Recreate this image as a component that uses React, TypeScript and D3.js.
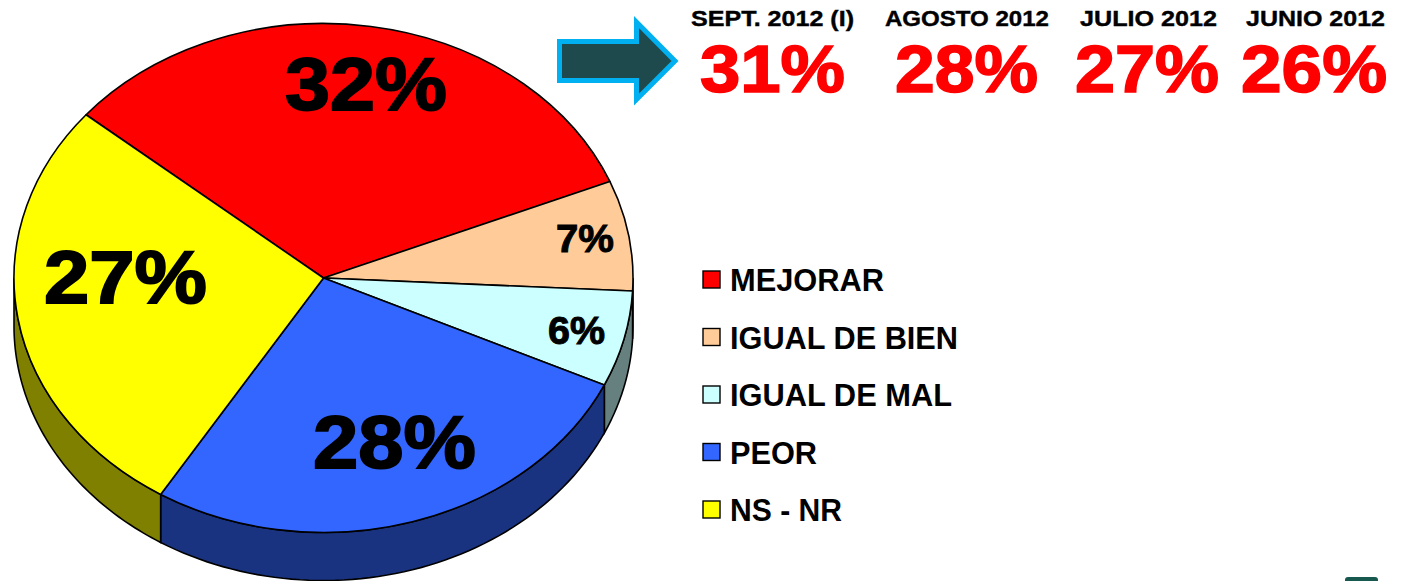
import React from 'react';
import * as d3 from 'd3';

const categories = ['MEJORAR', 'IGUAL DE BIEN', 'IGUAL DE MAL', 'PEOR', 'NS - NR'];
const shares = [32.4, 7.2, 6.3, 27.5, 26.6];
const shareLabels = ['32%', '7%', '6%', '28%', '27%'];
const topColors = ['#ff0000', '#ffcc99', '#ccffff', '#3366ff', '#ffff00'];
const sideColors = ['#800000', '#806650', '#668080', '#1a3380', '#808000'];

const periods = ['SEPT. 2012 (I)', 'AGOSTO 2012', 'JULIO 2012', 'JUNIO 2012'];
const periodValues = ['31%', '28%', '27%', '26%'];

const width = 1405;
const height = 581;
const cx = 323.5;
const cy = 278;
const rx = 309.5;
const ry = 254.5;
const depth = 48;
const deg = Math.PI / 180;
const startAngle = -50.5 * deg;
const font = '"Liberation Sans", Arial, sans-serif';

// label box per slice: [left, baseline, text width, font size]
const sliceLabelBoxes = [
	[285, 110, 162, 74],
	[556, 252, 58, 38],
	[548, 344, 57, 38],
	[313, 468, 163, 74],
	[44, 303, 163, 74],
];
const periodBoxes = [[691, 163], [885, 164], [1080, 137], [1246, 139]];
const valueBoxes = [[700, 145], [895, 143], [1075, 144], [1241, 146]];
const legendWidths = [154, 228, 222, 87, 112];

// the original is a 3D pie seen in slight perspective, so angles are not quite even
const skew = (a: number) => a + 2 * deg * Math.sin(a + 62 * deg);

const pie = d3.pie<number>().sort(null)
	.startAngle(startAngle)
	.endAngle(startAngle + 2 * Math.PI);
const arc = d3.arc<d3.PieArcDatum<number>>().innerRadius(0)
	.outerRadius(rx);
const wall = d3.area<number>()
	.x((a) => cx + rx * Math.sin(a))
	.y0((a) => cy - ry * Math.cos(a))
	.y1((a) => cy - ry * Math.cos(a) + depth);

const wallAngles = (from: number, to: number) => {
	const a0 = Math.max(from, Math.PI / 2);
	const a1 = Math.min(to, 1.5 * Math.PI);

	if(a1 <= a0) return [];

	return d3.range(0, 61).map((i) => a0 + ((a1 - a0) * i) / 60);
};

const legendY = d3.scalePoint<string>().domain(categories)
	.range([280, 510]);

const App = () => {
	const slices = pie(shares).map((d) => ({
		...d,
		startAngle: skew(d.startAngle),
		endAngle: skew(d.endAngle),
	}));

	return (
		<svg
			width={ width }
			height={ height }
			style={ { position: 'absolute', left: 0, top: 0, background: '#fff' } }
			fontFamily={ font }
			fontWeight="bold"
		>
			{slices.map((d, i) => {
				const angles = wallAngles(d.startAngle, d.endAngle);

				return angles.length > 0 && (
					<path key={ i } d={ wall(angles) ?? '' } fill={ sideColors[i] } stroke="#000" strokeWidth={ 1.6 }/>
				);
			})}
			<g transform={ `translate(${ cx },${ cy }) scale(1,${ ry / rx })` }>
				{slices.map((d, i) => (
					<path
						key={ i }
						d={ arc(d) ?? '' }
						fill={ topColors[i] }
						stroke="#000"
						strokeWidth={ 1.6 }
						strokeLinejoin="round"
						vectorEffect="non-scaling-stroke"
					/>
				))}
			</g>
			{shareLabels.map((t, i) => {
				const [x, y, w, size] = sliceLabelBoxes[i];

				return (
					<text
						key={ t }
						x={ x }
						y={ y }
						fontSize={ size }
						textLength={ w }
						lengthAdjust="spacingAndGlyphs"
						stroke="#000"
						strokeWidth={ size / 40 }
					>{t}</text>
				);
			})}

			<path
				d="M559.5 41.5H636.5V22L675 61L636.5 99.5V80.5H559.5Z"
				fill="#1f4a4d"
				stroke="#00b0f0"
				strokeWidth={ 5 }
				strokeLinejoin="miter"
				strokeMiterlimit={ 6 }
			/>

			{periods.map((t, i) => (
				<text
					key={ t }
					x={ periodBoxes[i][0] }
					y={ 26 }
					fontSize={ 22 }
					textLength={ periodBoxes[i][1] }
					lengthAdjust="spacingAndGlyphs"
					stroke="#000"
					strokeWidth={ 0.4 }
				>{t}</text>
			))}
			{periodValues.map((t, i) => (
				<text
					key={ t }
					x={ valueBoxes[i][0] }
					y={ 92 }
					fontSize={ 67 }
					textLength={ valueBoxes[i][1] }
					lengthAdjust="spacingAndGlyphs"
					fill="#ff0000"
					stroke="#ff0000"
					strokeWidth={ 1.6 }
				>{t}</text>
			))}

			{categories.map((c, i) => {
				const y = legendY(c) ?? 0;

				return (
					<g key={ c }>
						<rect x={ 703 } y={ y - 9 } width={ 17 } height={ 17 } fill={ topColors[i] } stroke="#000" strokeWidth={ 1.4 }/>
						<text
							x={ 730 }
							y={ y + 11 }
							fontSize={ 30.5 }
							textLength={ legendWidths[i] }
							lengthAdjust="spacingAndGlyphs"
						>{c}</text>
					</g>
				);
			})}

			<rect x={ 1345 } y={ 577 } width={ 33 } height={ 8 } rx={ 3 } fill="#17594f"/>
		</svg>
	);
};

export default App;
